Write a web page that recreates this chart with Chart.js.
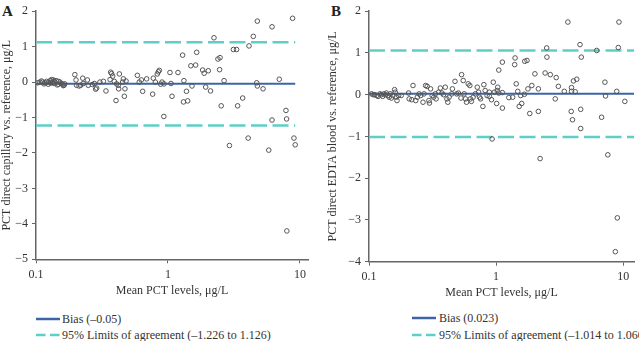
<!DOCTYPE html>
<html><head><meta charset="utf-8">
<script src="https://cdn.jsdelivr.net/npm/chart.js@4.4.1/dist/chart.umd.min.js"></script>
<style>
html,body{margin:0;padding:0;background:#fff;width:639px;height:341px;overflow:hidden;position:relative;font-family:"Liberation Serif","Times New Roman",serif;}
.wrap{position:absolute;}
.lbl{position:absolute;font-weight:bold;font-size:15px;color:#222;line-height:15px;}
.leg{position:absolute;height:14px;font-size:12px;color:#333;white-space:nowrap;line-height:14px;}
.leg svg{position:absolute;left:0;top:0;}
.leg span{position:absolute;top:0;}
</style></head><body>
<div class="lbl" style="left:2px;top:4px;">A</div>
<div class="lbl" style="left:331px;top:4px;">B</div>
<div class="wrap" style="left:0;top:0;width:320px;height:300px;"><canvas id="cA" width="320" height="300"></canvas></div>
<div class="wrap" style="left:326px;top:0;width:313px;height:302px;"><canvas id="cB" width="313" height="302"></canvas></div>

<div class="leg" style="left:36px;top:312px;"><svg width="26" height="14"><line x1="0" y1="7" x2="24" y2="7" stroke="#3d64a6" stroke-width="2.5"/></svg><span style="left:26px;">Bias (–0.05)</span></div>
<div class="leg" style="left:36px;top:328px;"><svg width="26" height="14"><line x1="0" y1="7" x2="24" y2="7" stroke="#5dcfc6" stroke-width="2.5" stroke-dasharray="9.5 4.5"/></svg><span style="left:26px;">95% Limits of agreement (–1.226 to 1.126)</span></div>
<div class="leg" style="left:412px;top:311px;"><svg width="26" height="14"><line x1="0" y1="7" x2="24" y2="7" stroke="#3d64a6" stroke-width="2.5"/></svg><span style="left:27px;">Bias (0.023)</span></div>
<div class="leg" style="left:412px;top:328px;"><svg width="26" height="14"><line x1="0" y1="7" x2="24" y2="7" stroke="#5dcfc6" stroke-width="2.5" stroke-dasharray="9.5 4.5"/></svg><span style="left:27px;">95% Limits of agreement (–1.014 to 1.060)</span></div>

<script>
// ---------- Panel A: direct capillary vs reference ----------
const capMean = [0.107,0.112,0.117,0.120,0.124,0.128,0.129,0.134,0.137,0.142,0.148,0.152,0.159,0.163,0.148,0.124,0.131,0.135,0.103,0.110,0.115,0.138,0.145,0.155,0.161,0.165,
0.197,0.201,0.203,0.212,0.218,0.226,0.228,0.245,0.249,0.267,0.277,0.283,0.288,0.305,0.324,0.339,0.364,0.374,0.368,0.381,0.392,0.408,0.420,0.423,0.428,0.453,0.459,0.481,0.472,0.404,0.467,0.586,0.606,0.628,0.643,0.689,0.765,0.774,0.802,0.830,0.845,0.860,0.880,0.901,0.933,1.035,1.054,1.072,1.19,1.29,1.32,1.31,1.41,1.38,1.49,1.62,1.65,1.52,1.83,1.88,2.02,1.93,2.10,2.23,2.39,2.48,2.46,2.53,2.66,3.13,3.31,3.37,3.68,4.11,4.43,4.70,4.75,5.25,4.75,6.14,6.97,7.83,8.79,7.92,6.14,
0.93,9.0,4.05,2.92,9.2,5.8,7.95];
const capDiff = [0,0,-0.02,0.02,0,0.04,-0.03,0,-0.04,0.04,0.02,0,-0.06,-0.09,-0.06,-0.06,0.07,0.06,-0.02,0.03,-0.05,0.02,-0.08,-0.04,-0.10,-0.05,
0.21,0.06,-0.09,-0.11,-0.09,0.11,-0.04,0.06,-0.09,-0.07,-0.04,-0.20,-0.17,0,0.02,-0.25,0.07,0.24,0.28,0.17,0.02,-0.05,-0.09,-0.19,0.23,0,0.09,0.03,-0.19,-0.52,-0.40,0.19,0,0.06,-0.26,0.09,-0.34,0.11,0,0.23,0.29,0.33,-0.06,0,-0.05,0.27,-0.04,-0.40,0.27,0.76,0.04,-0.56,-0.53,-0.26,0.46,0.48,0.84,-0.11,0.34,0.25,0.32,-0.14,-0.25,1.25,0.65,0.69,0.35,-0.67,0.04,0.92,0.92,-0.67,-0.45,1.02,1.29,-0.02,-0.11,-0.19,1.72,1.56,0.08,-0.80,1.80,-1.04,-1.07,
-0.97,-1.58,-1.58,-1.79,-1.77,-1.92,-4.2];
const capBias = -0.05, capLow = -1.226, capHigh = 1.126;
const capLineX = [0.1, 9.2];

// ---------- Panel B: direct EDTA blood vs reference ----------
const edtaMean = [0.105,0.108,0.111,0.115,0.118,0.122,0.125,0.128,0.131,0.135,0.137,0.141,0.144,0.147,0.150,0.154,0.159,0.161,0.164,0.166,0.171,0.179,
0.205,0.207,0.217,0.222,0.233,0.240,0.248,0.255,0.266,0.271,0.279,0.287,0.296,0.299,0.305,0.314,0.323,0.333,0.337,0.353,0.364,0.375,0.386,0.398,0.410,0.417,0.427,0.448,0.453,0.475,0.490,0.505,0.529,0.535,0.551,0.561,0.574,0.585,0.603,0.621,0.628,0.639,0.659,0.687,0.711,0.728,0.741,0.755,0.787,0.801,0.820,0.849,0.968,
3.67,9.26,2.50,4.57,6.19,9.15,1.41,2.51,4.68,1.12,1.40,1.68,1.75,1.05,2.02,2.43,2.67,2.97,0.95,1.03,1.44,1.91,1.78,2.15,3.09,4.06,4.31,7.18,3.92,3.44,3.92,4.19,8.89,0.885,1.02,1.05,1.12,1.48,1.56,1.67,7.26,0.885,0.92,1.01,1.12,1.26,1.35,1.59,1.52,2.92,1.84,2.15,3.90,4.63,3.99,6.76,4.63,10.3,0.93,
2.22,7.57,8.99,8.67];
const edtaDiff = [0.02,0,0,-0.02,-0.04,0.02,0,-0.04,0.02,0,0.04,-0.02,-0.06,0.02,-0.08,-0.02,0.12,0.06,-0.06,-0.14,-0.02,-0.02,
0.04,-0.10,-0.12,0.22,-0.14,-0.06,0.02,-0.02,-0.18,0.02,0.22,0.20,-0.14,-0.20,0.14,-0.02,-0.06,0.02,-0.10,0.06,0.16,0.04,0,0.18,-0.10,-0.18,-0.06,0.02,0.14,0.32,0.02,0.04,-0.08,0.48,0.34,0.02,-0.10,-0.18,0.26,0.22,-0.10,-0.16,-0.06,0.02,0.18,0.06,-0.06,-0.10,-0.28,0.24,0.10,-0.02,0.06,
1.74,1.74,1.12,1.20,1.06,1.13,0.88,0.90,0.90,0.78,0.72,0.80,0.82,0.59,0.50,0.52,0.48,0.41,0.30,0.18,0.26,0.22,0.14,0.14,0.20,0.33,0.37,0.30,0.17,0.08,0.08,0.07,0.08,0.06,0.10,0.04,0.05,0.08,-0.02,0.01,-0.03,-0.04,-0.12,-0.21,-0.32,-0.07,-0.06,-0.21,-0.28,-0.10,-0.45,-0.40,-0.40,-0.35,-0.60,-0.54,-0.81,-0.16,-1.06,
-1.53,-1.44,-2.95,-3.76];
const edtaBias = 0.023, edtaLow = -1.014, edtaHigh = 1.060;
const edtaLineX = [0.1, 12.16];

const xTicks = [0.1, 1, 10];
const FONT = '"Liberation Serif","Times New Roman",serif';
const BIAS_COLOR = '#3d64a6', LOA_COLOR = '#5dcfc6';

function makeChart(id, xs, ys, bias, lo, hi, lineX, cfg) {
  const pts = xs.map((x, i) => ({x: x, y: ys[i]}));
  const hline = v => lineX.map(x => ({x: x, y: v}));
  const axisGrid = {display: true, drawOnChartArea: false, drawTicks: true, tickLength: 4, color: '#666', lineWidth: 1};
  const axisBorder = {display: true, color: '#666', width: 1.5};
  return new Chart(document.getElementById(id), {
    type: 'scatter',
    data: {datasets: [
      {data: pts, order: 0, pointRadius: 2.3, pointBorderWidth: 1, pointBorderColor: '#555', pointBackgroundColor: 'rgba(255,255,255,0)', showLine: false},
      {data: hline(bias), order: 1, showLine: true, pointRadius: 0, borderColor: BIAS_COLOR, borderWidth: 2},
      {data: hline(hi), order: 1, showLine: true, pointRadius: 0, borderColor: LOA_COLOR, borderWidth: 2.5, borderDash: [16, 5.5]},
      {data: hline(lo), order: 1, showLine: true, pointRadius: 0, borderColor: LOA_COLOR, borderWidth: 2.5, borderDash: [16, 5.5]}
    ]},
    options: {
      responsive: false, animation: false, devicePixelRatio: 1,
      layout: {padding: cfg.padding},
      plugins: {legend: {display: false}, tooltip: {enabled: false}},
      scales: {
        x: {
          type: 'logarithmic', min: 0.1, max: cfg.xMax,
          afterBuildTicks: s => { s.ticks = xTicks.map(v => ({value: v})); },
          afterFit: s => { s.height = cfg.xHeight; },
          ticks: {callback: v => String(v), font: {family: FONT, size: 12}, color: '#333', padding: 4, maxRotation: 0, autoSkip: false},
          grid: axisGrid, border: axisBorder,
          title: {display: true, text: 'Mean PCT levels, μg/L', font: {family: FONT, size: 12}, color: '#333', padding: {top: 0, bottom: cfg.xTitlePad}}
        },
        y: {
          type: 'linear', min: cfg.yMin, max: cfg.yMax,
          afterFit: s => { s.width = cfg.yWidth; },
          ticks: {stepSize: 1, callback: v => v < 0 ? '\u2212' + Math.abs(v) : String(v), font: {family: FONT, size: 12}, color: '#333', padding: 4},
          grid: axisGrid, border: axisBorder,
          title: {display: true, text: cfg.yTitle, font: {family: FONT, size: 12}, color: '#333', padding: {top: 0, bottom: 0}}
        }
      }
    }
  });
}

makeChart('cA', capMean, capDiff, capBias, capLow, capHigh, capLineX, {
  padding: {top: 8, right: 12, bottom: 0, left: 0}, xMax: 11.5, xHeight: 40.7, xTitlePad: 2,
  yMin: -5, yMax: 2, yWidth: 36, yTitle: 'PCT direct capillary vs. reference, μg/L'
});
makeChart('cB', edtaMean, edtaDiff, edtaBias, edtaLow, edtaHigh, edtaLineX, {
  padding: {top: 8.3, right: 0, bottom: 0, left: 0}, xMax: 12.16, xHeight: 40.3, xTitlePad: 2.3,
  yMin: -4, yMax: 2, yWidth: 43, yTitle: 'PCT direct EDTA blood vs. reference, μg/L'
});
</script>
</body></html>
